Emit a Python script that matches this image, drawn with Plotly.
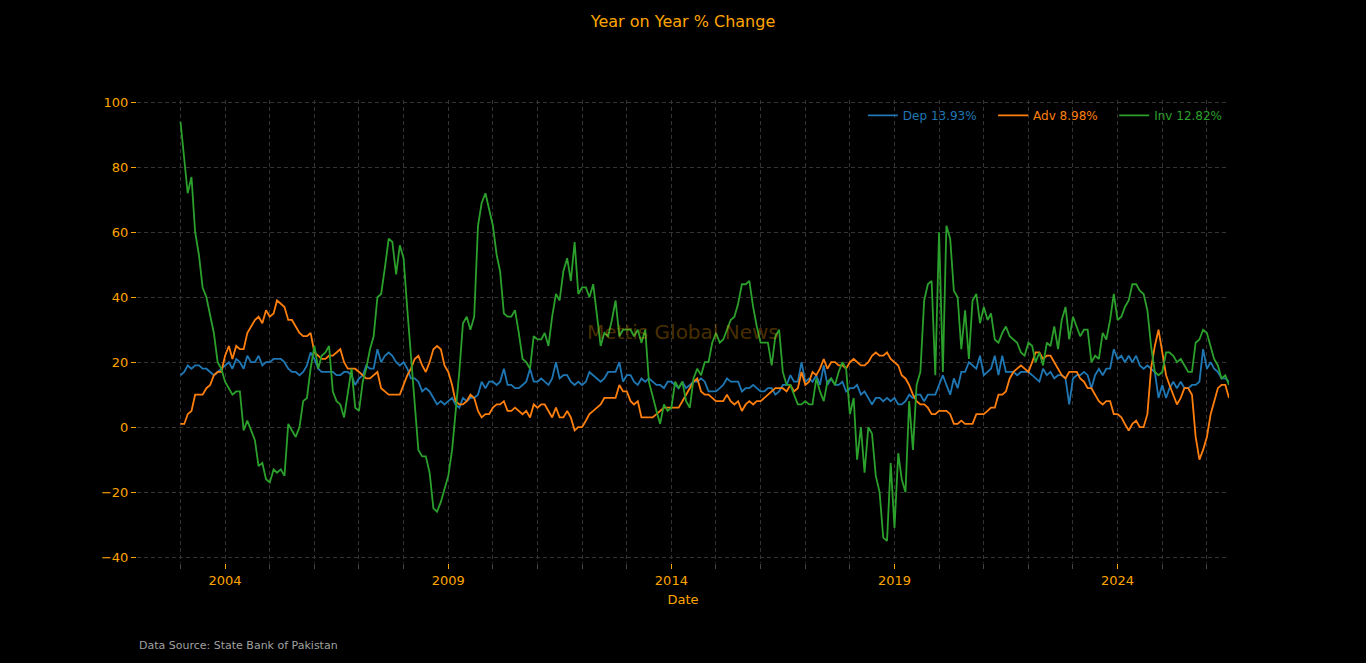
import pandas as pd
import plotly.graph_objects as go

# monthly YoY % change, Jan 2003 .. Jul 2026 (one row per year)
dep = [
    16, 17, 19, 18, 19, 19, 18, 18, 17, 16, 17, 18,   # 2003
    19, 20, 18, 21, 20, 18, 22, 20, 20, 22, 19, 20,   # 2004
    20, 21, 21, 21, 20, 18, 17, 17, 16, 17, 19, 23,   # 2005
    21, 18, 17, 17, 17, 17, 16, 16, 17, 17, 16, 13,   # 2006
    15, 16, 19, 18, 18, 24, 20, 22, 23, 22, 20, 19,   # 2007
    20, 18, 15, 15, 14, 11, 12, 11, 9, 7, 8, 7,       # 2008
    8, 9, 7, 6, 9, 8, 9, 9, 10, 14, 12, 14,           # 2009
    14, 13, 14, 18, 13, 13, 12, 12, 13, 14, 18, 14,   # 2010
    14, 15, 14, 13, 15, 20, 15, 16, 16, 14, 13, 14,   # 2011
    13, 14, 17, 16, 15, 14, 15, 17, 17, 17, 20, 14,   # 2012
    16, 16, 14, 13, 15, 14, 15, 14, 13, 13, 12, 14,   # 2013
    14, 13, 12, 14, 12, 13, 14, 14, 15, 14, 11, 11,   # 2014
    11, 12, 13, 15, 14, 14, 14, 11, 12, 12, 13, 12,   # 2015
    11, 11, 12, 12, 10, 11, 13, 13, 16, 14, 14, 20,   # 2016
    14, 15, 14, 16, 13, 19, 13, 15, 13, 13, 14, 11,   # 2017
    12, 12, 13, 10, 11, 9, 7, 9, 9, 8, 9, 8,          # 2018
    9, 7, 7, 8, 10, 9, 10, 10, 8, 10, 10, 10,         # 2019
    13, 16, 13, 10, 15, 12, 17, 17, 20, 19, 18, 22,   # 2020
    16, 17, 18, 22, 16, 22, 17, 17, 17, 16, 17, 17,   # 2021
    17, 16, 15, 14, 18, 16, 17, 15, 16, 16, 15, 7,    # 2022
    15, 16, 16, 17, 16, 12, 16, 18, 16, 18, 18, 24,   # 2023
    21, 22, 20, 22, 20, 22, 19, 18, 19, 18, 17, 9,    # 2024
    13, 9, 12, 14, 12, 14, 12, 12, 13, 13, 14, 24,    # 2025
    18, 20, 18, 17, 15, 15, 14,                       # 2026
]

adv = [
    1, 1, 4, 5, 10, 10, 10, 12, 13, 16, 17, 17,
    22, 25, 21, 25, 24, 24, 29, 31, 33, 34, 32, 36,
    34, 35, 39, 38, 37, 33, 33, 31, 29, 28, 28, 29,
    23, 22, 21, 21, 22, 22, 23, 24, 20, 18, 18, 18,
    17, 16, 15, 15, 16, 17, 12, 11, 10, 10, 10, 10,
    13, 16, 18, 21, 22, 19, 17, 20, 24, 25, 24, 19,
    17, 13, 8, 7, 7, 8, 10, 9, 5, 3, 4, 4,
    6, 7, 7, 8, 5, 5, 6, 5, 4, 5, 3, 7,
    6, 7, 7, 5, 3, 6, 3, 3, 5, 3, -1, 0,
    0, 2, 4, 5, 6, 7, 9, 9, 9, 9, 13, 11,
    11, 8, 7, 8, 3, 3, 3, 3, 4, 5, 6, 6,
    6, 6, 6, 8, 10, 12, 14, 15, 11, 10, 10, 9,
    8, 8, 8, 10, 8, 7, 8, 5, 7, 8, 7, 8,
    8, 9, 10, 11, 12, 12, 12, 11, 13, 11, 12, 17,
    13, 14, 17, 16, 18, 21, 18, 20, 20, 19, 19, 18,
    20, 21, 20, 19, 19, 20, 22, 23, 22, 22, 23, 21,
    20, 19, 16, 15, 13, 10, 8, 7, 7, 6, 4, 4,
    5, 5, 5, 4, 1, 1, 2, 1, 1, 1, 4, 4,
    4, 5, 6, 6, 10, 10, 11, 15, 17, 18, 19, 18,
    17, 20, 23, 23, 21, 22, 22, 20, 18, 16, 15, 17,
    17, 17, 15, 14, 12, 12, 10, 8, 7, 8, 8, 4,
    4, 3, 1, -1, 1, 2, 0, 0, 4, 18, 25, 30,
    23, 16, 13, 10, 7, 9, 12, 12, 10, -3, -10, -7,
    -3, 4, 8, 12, 13, 13, 9,
]

inv = [
    94, 83, 72, 77, 60, 53, 43, 40, 34, 29, 20, 18,
    14, 12, 10, 11, 11, -1, 2, -1, -4, -12, -11, -16,
    -17, -13, -14, -13, -15, 1, -1, -3, 0, 8, 9, 18,
    25, 18, 22, 23, 25, 11, 8, 7, 3, 10, 18, 6,
    5, 14, 18, 24, 28, 40, 41, 49, 58, 57, 47, 56,
    52, 36, 22, 5, -7, -9, -9, -14, -25, -26, -23, -19,
    -15, -7, 4, 17, 32, 34, 30, 34, 62, 69, 72, 67,
    62, 53, 48, 35, 34, 34, 36, 29, 21, 20, 18, 28,
    27, 27, 29, 25, 34, 41, 39, 48, 52, 45, 57, 41,
    43, 43, 40, 44, 34, 25, 29, 28, 33, 39, 28, 30,
    30, 30, 28, 30, 26, 30, 14, 9, 5, 1, 7, 5,
    6, 14, 12, 14, 8, 6, 15, 18, 16, 20, 20, 26,
    29, 26, 27, 30, 33, 34, 38, 44, 44, 45, 37, 31,
    26, 26, 26, 19, 28, 30, 17, 13, 13, 10, 7, 7,
    8, 7, 7, 15, 11, 8, 14, 15, 13, 17, 20, 18,
    4, 9, -10, 0, -14, 0, -2, -15, -20, -34, -35, -11,
    -31, -8, -16, -20, 8, -7, 13, 17, 39, 44, 45, 16,
    60, 17, 62, 58, 42, 40, 24, 36, 21, 39, 41, 32,
    37, 33, 35, 27, 26, 29, 31, 28, 27, 26, 23, 22,
    26, 25, 20, 23, 19, 26, 25, 31, 24, 33, 37, 27,
    34, 31, 28, 30, 30, 20, 22, 21, 29, 27, 33, 41,
    33, 34, 37, 39, 44, 44, 42, 41, 36, 25, 17, 16,
    17, 23, 23, 22, 20, 21, 19, 17, 17, 26, 27, 30,
    29, 25, 21, 19, 15, 16, 13,
]

names = ["Dep 13.93%", "Adv 8.98%", "Inv 12.82%"]
colors = ["#1f77b4", "#ff7f0e", "#2ca02c"]

dates = pd.date_range("2003-01-01", periods=len(dep), freq="MS")

ORANGE = "orange"
GRID = "#333333"
FONT = "DejaVu Sans"
DASH = "4px,3px"

fig = go.Figure()
for name, vals, col in zip(names, [dep, adv, inv], colors):
    # legend label drawn in the series colour
    label = f'<span style="color:{col}">{name}</span>&nbsp;&nbsp;&nbsp;'
    fig.add_trace(go.Scatter(x=dates, y=vals, mode="lines", name=label,
                             line=dict(color=col, width=1.8)))

fig.update_layout(
    width=1366, height=663,
    paper_bgcolor="black", plot_bgcolor="black",
    font=dict(family=FONT, color=ORANGE, size=13),
    margin=dict(l=137, r=137, t=100, b=100),
    title=dict(text="Year on Year % Change", x=0.5, xanchor="center",
               y=1 - 21 / 663, yanchor="middle", yref="container",
               font=dict(size=16, color=ORANGE)),
    legend=dict(orientation="h", x=1.009, xanchor="right", y=0.998, yanchor="top",
                bgcolor="rgba(0,0,0,0)", font=dict(size=12)),
)

fig.update_xaxes(
    title=dict(text="Date", font=dict(size=13, color=ORANGE), standoff=8),
    range=["2002-01-10", "2026-07-01"],
    tick0="2004-01-01", dtick="M60", tickformat="%Y",
    ticks="outside", tickcolor=ORANGE, ticklen=5,
    tickfont=dict(color=ORANGE, size=13),
    showgrid=True, gridcolor=GRID, griddash=DASH, gridwidth=1,
    minor=dict(dtick="M12", tick0="2003-01-01", showgrid=True, gridcolor=GRID,
               griddash=DASH, ticks="outside", ticklen=5, tickcolor="#444"),
    zeroline=False, showline=False,
)
fig.update_yaxes(
    range=[-41.8, 100.7],
    tick0=0, dtick=20,
    ticks="outside", tickcolor=ORANGE, ticklen=5,
    tickfont=dict(color=ORANGE, size=13),
    showgrid=True, gridcolor=GRID, griddash=DASH, gridwidth=1,
    zeroline=False, showline=False,
)

fig.add_annotation(text="Mettis Global News", x=0.5, y=0.5, xref="paper", yref="paper",
                   showarrow=False, font=dict(size=20, color="rgba(255,165,0,0.3)"))
fig.add_annotation(text="Data Source: State Bank of Pakistan", x=0, y=-0.179,
                   xref="paper", yref="paper", xanchor="left", yanchor="middle",
                   showarrow=False, font=dict(size=11, color="#a0a0a0"))

# page without the default white body margin, no modebar
fig.write_html("out.html",
               config={"displayModeBar": False},
               post_script="document.body.style.margin='0';"
                           "document.body.style.background='black';")
